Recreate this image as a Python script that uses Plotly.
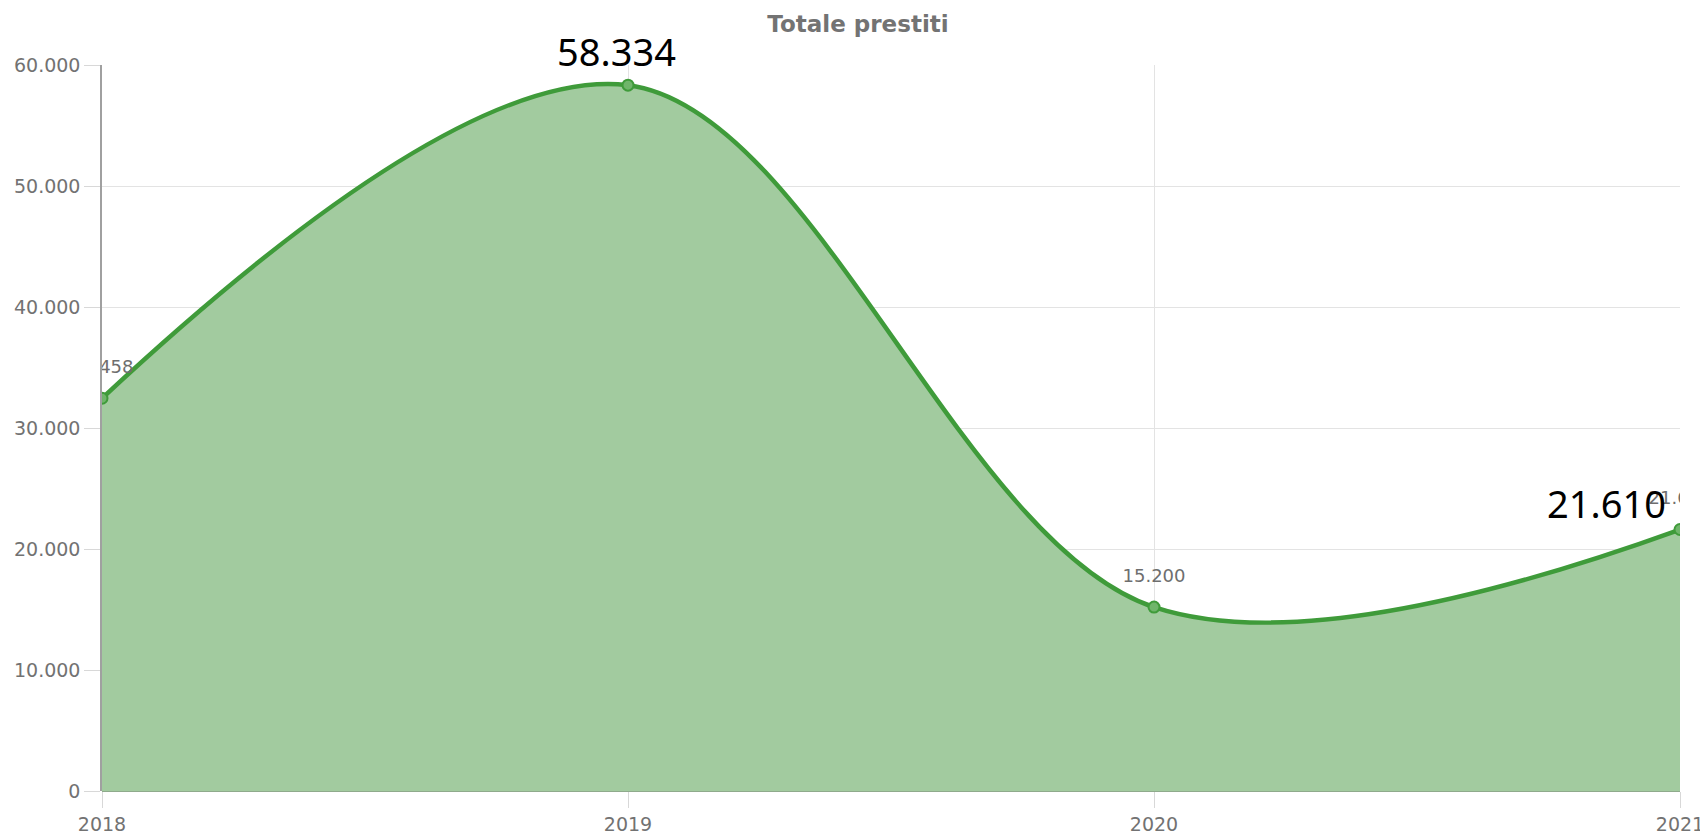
import plotly.graph_objects as go

years = [2018, 2019, 2020, 2021]
prestiti = [32458, 58334, 15200, 21610]
labels_small = ["32.458", "58.334", "15.200", "21.610"]
big_label_years = [2019, 2021]
big_label_values = [58334, 21610]
big_label_texts = ["58.334", "21.610"]
y_ticks = [0, 10000, 20000, 30000, 40000, 50000, 60000]
y_tick_text = ["0", "10.000", "20.000", "30.000", "40.000", "50.000", "60.000"]

line_col = "#3f9b3a"
fill_col = "#a2cb9f"
grid_col = "#e3e3e3"
tick_font = dict(family="DejaVu Sans, sans-serif", size=19, color="#727272")

fig = go.Figure()
fig.add_trace(go.Scatter(
    x=years, y=prestiti, mode="lines+markers",
    line=dict(color=line_col, width=4.5, shape="spline", smoothing=1.0),
    marker=dict(size=11, color="#6fb56a", line=dict(color=line_col, width=2)),
    fill="tozeroy", fillcolor=fill_col,
    hoverinfo="skip", showlegend=False,
))
# small grey data labels (clipped to the plot area)
fig.add_trace(go.Scatter(
    x=years, y=prestiti, mode="markers+text",
    marker=dict(size=32, color="rgba(0,0,0,0)"),
    text=labels_small, textposition="top center",
    textfont=dict(family="DejaVu Sans, sans-serif", size=18, color="#6e6e6e"),
    cliponaxis=True, hoverinfo="skip", showlegend=False,
))

for yr, val, txt, xs, ys, xa in zip(big_label_years, big_label_values, big_label_texts,
                                    [-12, -12], [34, 27], ["center", "right"]):
    fig.add_annotation(x=yr, y=val, text=txt, showarrow=False,
                       xanchor=xa, yanchor="middle", xshift=xs, yshift=ys,
                       font=dict(family="Noto Sans, Lato, sans-serif", size=38, color="#000000"))

fig.update_layout(
    width=1700, height=828,
    margin=dict(l=94, r=28, t=57, b=45, autoexpand=False),
    paper_bgcolor="white", plot_bgcolor="white",
    separators=",.",
    title=dict(text="<b>Totale prestiti</b>", x=0.5, xanchor="center", y=1 - 16 / 828, yanchor="middle",
               font=dict(family="DejaVu Sans, sans-serif", size=23, color="#737373")),
)
fig.update_xaxes(
    range=[2018, 2021], tickvals=years, ticktext=[str(y) for y in years],
    showgrid=True, gridcolor=grid_col, gridwidth=1, automargin=False,
    ticks="outside", ticklen=16, tickcolor="#d8d8d8", tickwidth=1,
    showline=False, zeroline=False, tickfont=tick_font,
)
fig.update_yaxes(
    range=[0, 60000], tickvals=y_ticks, ticktext=y_tick_text,
    showgrid=True, gridcolor=grid_col, gridwidth=1, automargin=False,
    ticks="outside", ticklen=16, tickcolor="#d8d8d8", tickwidth=1,
    showline=True, linecolor="#a0a0a0", linewidth=1.5,
    zeroline=True, zerolinecolor="#8faa8c", zerolinewidth=2, tickfont=tick_font,
)

fig.write_html("out.html")
